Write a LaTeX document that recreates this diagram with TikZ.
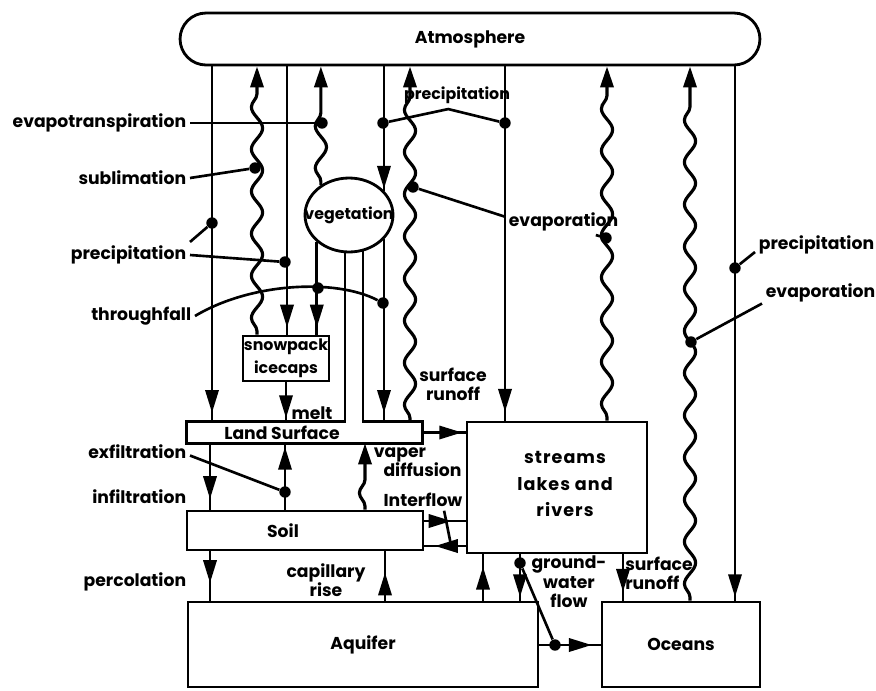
\documentclass[tikz,border=0pt]{standalone}
\usepackage{fontspec}
\setmainfont{Poppins}
\usetikzlibrary{arrows.meta,decorations.pathmorphing,decorations.markings,shapes.geometric}

\tikzset{
	box/.style={draw, line width=1.6pt, inner sep=0pt},
	lbl/.style={font=\bfseries\fontsize{9.8}{11}\selectfont, inner sep=2pt, align=center},
	smalllbl/.style={lbl, font=\bfseries\fontsize{9}{13}\selectfont},
	flow/.style={line width=1.6pt, postaction={decorate, decoration={markings,
			mark=at position #1 with {\arrow{Triangle[length=13pt,width=7.5pt]}}}}},
	flow/.default={-4pt},
	wavy/.style={line width=1.8pt, -{Triangle[length=12pt,width=7.5pt]}, decorate,
		decoration={snake, amplitude=3.2pt, segment length=24pt, pre length=2pt, post length=15pt}},
	lead/.style={line width=1.5pt},
	dot/.style={circle, fill, inner sep=0pt, minimum size=6.5pt},
}

\begin{document}
\begin{tikzpicture}[x=0.02cm, y=-0.02cm]
	\useasboundingbox (0,0) rectangle (876,690);

	% stores
	\node[lbl, box, rounded corners=0.52cm, minimum width=11.6cm, minimum height=1.04cm] (atm) at (470,39) {Atmosphere};
	\node[draw, ellipse, line width=1.6pt, minimum width=1.76cm, minimum height=1.48cm, inner sep=0pt] (veg) at (349,215) {};
	\node[smalllbl] (vegtxt) at (veg) {vegetation};
	\node[smalllbl, box, minimum width=1.72cm, minimum height=0.9cm] (snow) at (286,358.5) {snowpack\\icecaps};
	\node[minimum width=4.7cm, minimum height=0.42cm, inner sep=0pt] (land) at (304.5,432.5) {};
	\node[lbl] (landtxt) at (282,433) {Land Surface};
	\node[box, minimum width=3.6cm, minimum height=2.62cm] (streams) at (557,487.5) {};
	\node[lbl, font=\bfseries\fontsize{10}{15}\selectfont\addfontfeatures{LetterSpace=6}] (strtxt) at (565,484) {streams\\lakes and\\rivers};
	\node[box, minimum width=4.72cm, minimum height=0.78cm] (soil) at (305,530.5) {};
	\node[lbl] (soiltxt) at (283,531) {Soil};
	\node[lbl, box, minimum width=7cm, minimum height=1.7cm] (aquifer) at (363,644.5) {Aquifer};
	\node[lbl, box, minimum width=3.16cm, minimum height=1.7cm] (oceans) at (681,644.5) {Oceans};

	\draw[line width=1.6pt] (veg.south -| 345,0) -- (land.north -| 345,0) -| (land.south west) -| (land.north east)
		-- (land.north -| 363,0) -- ([yshift=2pt]veg.south -| 363,0);

	% fluxes with the atmosphere
	\foreach \dst/\xx/\pos in {land/212/-5pt, snow/287/-4pt, streams/505/-5pt, oceans/735/-2pt}
		\draw[flow=\pos] (atm.south -| \xx,0) -- (\dst.north -| \xx,0);
	\draw[flow=-1pt] (atm.south -| veg.35) -- (veg.35);
	\draw[flow=-5pt] (veg.325) -- (land.north -| veg.325);
	\draw[flow=-4pt] (veg.220) -- (snow.north -| veg.220);
	\foreach \src/\xx in {snow/257, land/410, streams/607, oceans/690}
		\draw[wavy] (\src.north -| \xx,0) -- (atm.south -| \xx,0);
	\draw[wavy] (veg.133) -- (atm.south -| veg.133);

	% fluxes between the stores
	\draw[flow=-2pt] (snow.south) -- (land.north -| snow.south);
	\draw[flow=-2pt] (land.east) -- (streams.west |- land.east);
	\draw[flow=-6pt] (land.south -| 210,0) -- (soil.north -| 210,0);
	\draw[flow=-2pt] (soil.north -| 285,0) -- (land.south -| 285,0);
	\draw[wavy] (soil.north -| 365,0) -- (land.south -| 365,0);
	\draw[flow=-8pt] (soil.east |- 0,521) -- (streams.west |- 0,521);
	\draw[flow=-6pt] (streams.west |- 0,546) -- (soil.east |- 0,546);
	\draw[flow=-10pt] (soil.south -| 210,0) -- (aquifer.north -| 210,0);
	\draw[flow=-12pt] (aquifer.north -| 385,0) -- (soil.south -| 385,0);
	\draw[flow=-7pt] (aquifer.north -| 483,0) -- (streams.south -| 483,0);
	\draw[flow=-2pt] (streams.south -| 520,0) -- (aquifer.north -| 520,0);
	\draw[flow=-5pt] (streams.south -| 623,0) -- (oceans.north -| 623,0);
	\draw[flow=-5pt] (aquifer.east |- 0,645) -- (oceans.west |- 0,645);

	\foreach \nm/\xx/\yy in {dEvt/322/123, dSub/255/168, dPrcA/212/223, dPrcB/285/262,
		dThrA/318/288, dThrB/383/303, dPrcC/383/123, dPrcD/505/123, dEvaA/413/187,
		dEvaB/606/238, dPrcE/735/268, dEvaC/691/342, dExf/285/492, dGwA/520/563, dGwB/555/645}
		\node[dot] (\nm) at (\xx,\yy) {};

	% labels
	\node[lbl, anchor=east] (evtlbl) at (190,123) {evapotranspiration};
	\node[lbl, anchor=east] (sublbl) at (190,178) {sublimation};
	\node[lbl, anchor=east] (prclbl) at (190,255) {precipitation};
	\node[lbl, anchor=east] (thrlbl) at (195,316) {throughfall};
	\node[lbl, anchor=east] (exflbl) at (190,452) {exfiltration};
	\node[lbl, anchor=east] (inflbl) at (190,497) {infiltration};
	\node[lbl, anchor=east] (perlbl) at (190,582) {percolation};
	\node[smalllbl] (prctop) at (457,95) {precipitation};
	\node[lbl, anchor=west] (evamid) at (505,222) {evaporation};
	\node[lbl, anchor=west] (prcrt) at (755,245) {precipitation};
	\node[lbl, anchor=west] (evart) at (762,293) {evaporation};
	\node[lbl] (melt) at (312,413) {melt};
	\node[lbl, anchor=north west, align=left] (vapor) at (370,444) {vaper\\\hspace*{5.5pt}diffusion};
	\node[lbl] (runup) at (453,384) {surface\\runoff};
	\node[lbl] (intlbl) at (423,500) {Interflow};
	\node[lbl] (caplbl) at (326,580) {capillary\\rise};
	\node[lbl] (gwlbl) at (569,582) {ground-\\water\\flow};
	\node[lbl, align=left] (runlow) at (659,573) {surface\\runoff};

	% leaders
	\draw[lead] (evtlbl.east) -- (dEvt);
	\draw[lead] (sublbl.east) -- (dSub);
	\draw[lead] (prclbl.north east) -- (dPrcA);
	\draw[lead] (prclbl.east) -- (dPrcB);
	\draw[lead] (thrlbl.east) .. controls (250,283) and (335,278) .. (dThrB);
	\draw[lead] (dPrcC) -- ([xshift=-5pt,yshift=-1pt]prctop.south) -- (dPrcD);
	\draw[lead] ([yshift=3pt]evamid.west) -- (dEvaA);
	\draw[lead] ([xshift=-15pt]evamid.south east) -- (dEvaB);
	\draw[lead] ([yshift=-4pt]prcrt.west) -- (dPrcE);
	\draw[lead] ([yshift=-6pt]evart.west) -- (dEvaC);
	\draw[lead] ([yshift=-2pt]exflbl.east) -- (dExf);
	\coordinate (intend) at (452,550);
	\draw[lead] ([xshift=12pt]intlbl.south) -- (intend);
	\draw[lead] (dGwA) -- (dGwB);
\end{tikzpicture}
\end{document}
